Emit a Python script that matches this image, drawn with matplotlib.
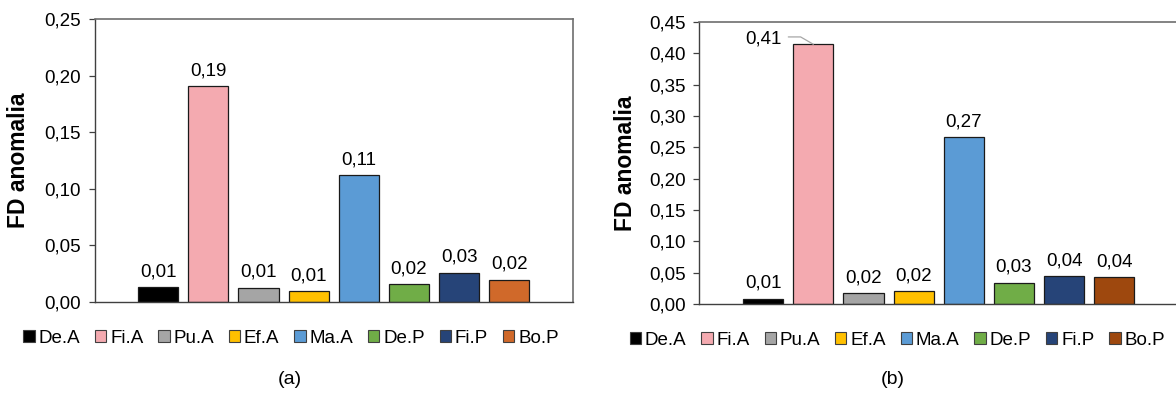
import matplotlib
matplotlib.use('Agg')
import matplotlib.pyplot as plt
from matplotlib.patches import Patch

plt.rcParams['font.family'] = ['Liberation Sans', 'DejaVu Sans']

# Data
CATEGORIES = ['De.A', 'Fi.A', 'Pu.A', 'Ef.A', 'Ma.A', 'De.P', 'Fi.P', 'Bo.P']
VALUES_A = [0.013, 0.191, 0.0125, 0.0092, 0.112, 0.0154, 0.0257, 0.0195]
VALUES_B = [0.0085, 0.4144, 0.017, 0.0202, 0.266, 0.034, 0.0442, 0.0431]
COLORS_A = ['#000000', '#F4AAB0', '#A5A5A5', '#FFC000', '#5B9BD5', '#70AD47', '#264478', '#D0692A']
COLORS_B = ['#000000', '#F4AAB0', '#A5A5A5', '#FFC000', '#5B9BD5', '#70AD47', '#264478', '#9E480E']
YMAX_A = 0.25
YMAX_B = 0.45
YLABEL = 'FD anomalia'
CAPTIONS = ['(a)', '(b)']


def fmt(v):
    return f"{v:.2f}".replace('.', ',')


def draw_panel(ax, values, colors, ymax, leader_idx=None):
    x = range(len(CATEGORIES))
    ax.bar(x, values, width=0.8, color=colors, edgecolor='#1a1a1a', linewidth=0.9, zorder=2)
    for i, v in enumerate(values):
        if i == leader_idx:
            ax.annotate(fmt(v), xy=(i, v), xytext=(i - 1, v + 0.009),
                        ha='center', va='center', fontsize=13.5,
                        arrowprops=dict(arrowstyle='-', color='#a6a6a6', lw=0.9,
                                        relpos=(1, 0.6), shrinkA=3, shrinkB=0,
                                        connectionstyle='angle,angleA=0,angleB=150,rad=0'))
        else:
            ax.annotate(fmt(v), xy=(i, v), xytext=(0, 5), textcoords='offset points',
                        ha='center', va='bottom', fontsize=13.5)
    ax.set_xlim(-1.27, len(CATEGORIES) - 1 + 1.27)
    ax.set_ylim(0, ymax)
    ticks = [round(0.05 * k, 2) for k in range(int(round(ymax / 0.05)) + 1)]
    ax.set_yticks(ticks)
    ax.set_yticklabels([fmt(t) for t in ticks], fontsize=13.5)
    ax.set_xticks([])
    ax.tick_params(axis='y', length=4, width=0.9, color='#404040', pad=6)
    for side in ['top', 'right']:
        ax.spines[side].set_color('#6e6e6e')
        ax.spines[side].set_linewidth(1.2)
    for side in ['left', 'bottom']:
        ax.spines[side].set_color('#404040')
        ax.spines[side].set_linewidth(1.0)
    ax.set_ylabel(YLABEL, fontsize=16.5, fontweight='bold')


fig = plt.figure(figsize=(11.76, 4.03), dpi=100)
ax1 = fig.add_axes([0.0804, 0.2514, 0.4068, 0.7007])
ax2 = fig.add_axes([0.5948, 0.2457, 0.4069, 0.6998])

draw_panel(ax1, VALUES_A, COLORS_A, YMAX_A)
draw_panel(ax2, VALUES_B, COLORS_B, YMAX_B, leader_idx=1)
ax1.yaxis.set_label_coords(-0.135, 0.5)
ax2.yaxis.set_label_coords(-0.131, 0.5)

# Legends
for colors, cx, cy in [(COLORS_A, 0.2475, 0.161), (COLORS_B, 0.763, 0.156)]:
    handles = [Patch(facecolor=c, edgecolor='#404040', linewidth=0.8) for c in colors]
    fig.legend(handles, CATEGORIES, loc='center', bbox_to_anchor=(cx, cy), ncol=8,
               frameon=False, fontsize=13.5, handlelength=0.6, handleheight=0.6,
               handletextpad=0.2, columnspacing=0.8, borderpad=0)

fig.text(290 / 1176, 1 - 380 / 403, CAPTIONS[0], ha='center', va='center', fontsize=14)
fig.text(893 / 1176, 1 - 380 / 403, CAPTIONS[1], ha='center', va='center', fontsize=14)

fig.savefig('out.png', dpi=100)
